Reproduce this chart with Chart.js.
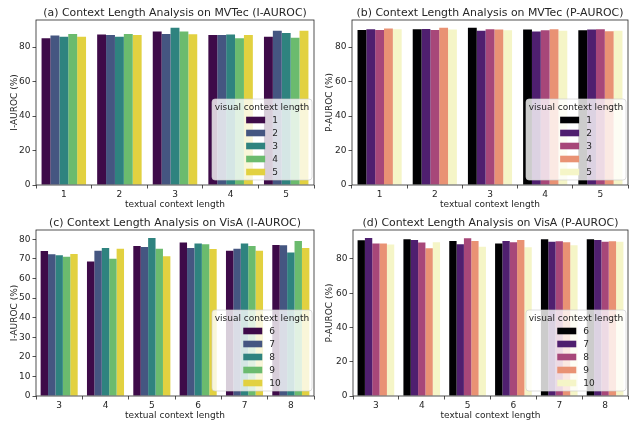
<!DOCTYPE html>
<html>
<head>
<meta charset="utf-8">
<script src="https://cdn.jsdelivr.net/npm/chart.js@4"></script>
<style>
  body { margin: 0; background: #fff; }
  #wrap { position: relative; width: 629px; height: 421px; }
  canvas { position: absolute; }
</style>
</head>
<body>
<div id="wrap">
  <canvas id="c1" width="315" height="210" style="left:0;top:0"></canvas>
  <canvas id="c2" width="314" height="210" style="left:315px;top:0"></canvas>
  <canvas id="c3" width="315" height="211" style="left:0;top:210px"></canvas>
  <canvas id="c4" width="314" height="211" style="left:315px;top:210px"></canvas>
</div>
<script>
// textual context length (x categories)
const mvtecText = ['1', '2', '3', '4', '5'];
const visaText = ['3', '4', '5', '6', '7', '8'];

// visual context length (hue)
const mvtecVisual = ['1', '2', '3', '4', '5'];
const visaVisual = ['6', '7', '8', '9', '10'];

// MVTec I-AUROC, one array per visual length
const mvtecI1 = [85.2, 87.3, 89.1, 87.0, 86.0];
const mvtecI2 = [86.8, 87.1, 87.7, 87.0, 89.5];
const mvtecI3 = [86.0, 86.0, 91.2, 87.3, 88.2];
const mvtecI4 = [87.7, 87.7, 89.1, 85.2, 85.4];
const mvtecI5 = [86.0, 87.0, 87.5, 87.0, 89.5];

// MVTec P-AUROC
const mvtecP1 = [90.0, 90.4, 91.2, 90.2, 89.8];
const mvtecP2 = [90.4, 90.6, 89.5, 89.1, 90.2];
const mvtecP3 = [90.0, 90.0, 90.4, 89.8, 90.4];
const mvtecP4 = [90.8, 91.2, 90.2, 90.4, 89.3];
const mvtecP5 = [90.4, 90.2, 89.8, 89.5, 89.5];

// VisA I-AUROC
const visaI6 = [74.0, 68.7, 76.6, 78.3, 74.2, 77.1];
const visaI7 = [72.3, 74.2, 76.1, 75.6, 75.2, 76.9];
const visaI8 = [71.8, 75.6, 80.7, 77.9, 77.9, 73.3];
const visaI9 = [71.1, 70.1, 75.2, 77.4, 76.6, 79.1];
const visaI10 = [72.5, 75.2, 71.3, 75.0, 74.2, 75.6];

// VisA P-AUROC
const visaP6 = [90.9, 91.5, 90.5, 89.0, 91.5, 91.5];
const visaP7 = [92.3, 91.1, 88.6, 90.5, 90.0, 91.1];
const visaP8 = [89.0, 89.6, 92.1, 89.8, 90.3, 90.1];
const visaP9 = [89.0, 86.2, 90.5, 91.1, 89.8, 90.3];
const visaP10 = [88.4, 89.8, 87.2, 86.8, 88.0, 90.1];

// seaborn-style desaturated palettes
const viridis = ['#3e0b49', '#455681', '#2f837f', '#6bbb6e', '#e2d140'];
const magma = ['#010103', '#4f1f6f', '#a74779', '#e99274', '#f5f5c7'];

const FONT = 'DejaVu Sans';
const INK = '#262626';
const FS = 9;

// title centred over the plot area + full frame
const framePlugin = {
  id: 'frame',
  afterDraw(chart, args, opts) {
    const { ctx, chartArea: a } = chart;
    ctx.save();
    ctx.strokeStyle = INK;
    ctx.lineWidth = 0.8;
    ctx.strokeRect(a.left, a.top, a.right - a.left, a.bottom - a.top);
    ctx.fillStyle = INK;
    ctx.font = '10.9px ' + FONT;
    ctx.textAlign = 'center';
    ctx.textBaseline = 'alphabetic';
    ctx.fillText(opts.title, (a.left + a.right) / 2, a.top - 4);
    ctx.restore();
  }
};

// matplotlib-like legend box in the lower right, semi-transparent
const boxLegend = {
  id: 'boxLegend',
  afterDraw(chart, args, opts) {
    const { ctx, chartArea: a } = chart;
    const sets = chart.data.datasets;
    const w = 100, h = 81;
    const x = a.right - 2 - w, y = a.bottom - 5 - h;
    ctx.save();
    ctx.beginPath();
    ctx.roundRect(x, y, w, h, 3);
    ctx.fillStyle = 'rgba(255,255,255,0.8)';
    ctx.fill();
    ctx.strokeStyle = 'rgba(204,204,204,0.8)';
    ctx.lineWidth = 0.8;
    ctx.stroke();
    ctx.fillStyle = INK;
    ctx.font = FS + 'px ' + FONT;
    ctx.textBaseline = 'middle';
    ctx.textAlign = 'center';
    ctx.fillText('visual context length', x + w / 2, y + 9);
    let maxLab = 0;
    sets.forEach(s => { maxLab = Math.max(maxLab, ctx.measureText(s.label).width); });
    const patchW = 19, gap = 7;
    const left = x + (w - (patchW + gap + maxLab)) / 2;
    ctx.textAlign = 'left';
    sets.forEach((s, i) => {
      const cy = y + 21 + i * 13;
      ctx.fillStyle = s.backgroundColor;
      ctx.fillRect(left, cy - 3.3, patchW, 6.6);
      ctx.fillStyle = INK;
      ctx.fillText(s.label, left + patchW + gap, cy + 0.5);
    });
    ctx.restore();
  }
};

function makeChart(id, title, cats, hues, series, colors, yLabel, step, yw) {
  const top = Math.max(...series.flat()) * 1.05;
  new Chart(document.getElementById(id), {
    type: 'bar',
    data: {
      labels: cats,
      datasets: series.map((vals, i) => ({
        label: hues[i],
        data: vals,
        backgroundColor: colors[i],
        borderWidth: 0,
        categoryPercentage: 0.8,
        barPercentage: 1.0
      }))
    },
    options: {
      responsive: false,
      animation: false,
      layout: { padding: { top: 20, right: 1, left: 9, bottom: 0 } },
      plugins: {
        legend: { display: false },
        tooltip: { enabled: false },
        frame: { title: title }
      },
      scales: {
        x: {
          grid: { drawOnChartArea: false, drawTicks: true, tickLength: 3.5, color: INK, lineWidth: 0.8 },
          border: { display: false },
          ticks: { color: INK, font: { family: FONT, size: FS }, padding: 1 },
          title: { display: true, text: 'textual context length', color: INK,
                   font: { family: FONT, size: FS }, padding: { top: 0, bottom: 0 } },
          afterFit: s => { s.height = 25; }
        },
        y: {
          min: 0,
          max: top,
          grid: { drawOnChartArea: false, drawTicks: true, tickLength: 3.5, color: INK, lineWidth: 0.8 },
          border: { display: false },
          ticks: { stepSize: step, includeBounds: false, color: INK, font: { family: FONT, size: FS }, padding: 2 },
          afterBuildTicks: s => { s.ticks = s.ticks.filter(t => t.value % step === 0); },
          title: { display: true, text: yLabel, color: INK,
                   font: { family: FONT, size: FS }, padding: { top: 0, bottom: 0 } },
          afterFit: s => { s.width = yw; }
        }
      }
    },
    plugins: [framePlugin, boxLegend]
  });
}

makeChart('c1', '(a) Context Length Analysis on MVTec (I-AUROC)', mvtecText, mvtecVisual,
  [mvtecI1, mvtecI2, mvtecI3, mvtecI4, mvtecI5], viridis, 'I-AUROC (%)', 20, 27);
makeChart('c2', '(b) Context Length Analysis on MVTec (P-AUROC)', mvtecText, mvtecVisual,
  [mvtecP1, mvtecP2, mvtecP3, mvtecP4, mvtecP5], magma, 'P-AUROC (%)', 20, 28);
makeChart('c3', '(c) Context Length Analysis on VisA (I-AUROC)', visaText, visaVisual,
  [visaI6, visaI7, visaI8, visaI9, visaI10], viridis, 'I-AUROC (%)', 10, 27);
makeChart('c4', '(d) Context Length Analysis on VisA (P-AUROC)', visaText, visaVisual,
  [visaP6, visaP7, visaP8, visaP9, visaP10], magma, 'P-AUROC (%)', 20, 29);
</script>
</body>
</html>
